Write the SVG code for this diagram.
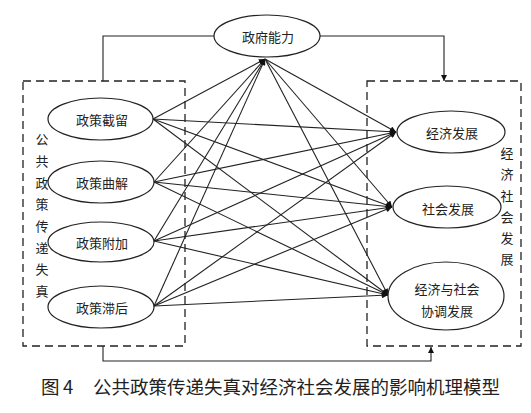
<svg xmlns="http://www.w3.org/2000/svg" width="531" height="413" viewBox="0 0 531 413">
<style>
.n{fill:#fff;stroke:#222;stroke-width:1.2}
.box{fill:none;stroke:#222;stroke-width:1.3;stroke-dasharray:8 5}
.t{font-family:"Noto Sans CJK SC","Noto Sans",sans-serif;font-size:13px;fill:#222;text-anchor:middle;dominant-baseline:central}
.c line,.c path{stroke:#222;stroke-width:1.1;fill:none}
.cap{font-family:"Noto Sans CJK SC","Noto Sans",sans-serif;font-size:18.5px;fill:#222;dominant-baseline:central}
</style>
<defs>
<marker id="ah" viewBox="0 0 10 10" refX="10" refY="5" markerWidth="8" markerHeight="6" markerUnits="userSpaceOnUse" orient="auto">
<path d="M0,0 L10,5 L0,10 z" fill="#111"/>
</marker>
</defs>
<rect width="531" height="413" fill="#fff"/>
<g id="leftbox">
<rect class="box" x="23" y="81" width="162" height="265"/>
<text class="t"><tspan x="42" y="138">公</tspan><tspan x="42" y="160">共</tspan><tspan x="42" y="182">政</tspan><tspan x="42" y="203">策</tspan><tspan x="42" y="225">传</tspan><tspan x="42" y="247">递</tspan><tspan x="42" y="268">失</tspan><tspan x="42" y="290">真</tspan></text>
</g>
<g id="rightbox">
<rect class="box" x="367" y="81" width="154" height="265"/>
<text class="t"><tspan x="507" y="152">经</tspan><tspan x="507" y="173">济</tspan><tspan x="507" y="195">社</tspan><tspan x="507" y="216">会</tspan><tspan x="507" y="237">发</tspan><tspan x="507" y="258">展</tspan></text>
</g>
<g class="c" id="connectors">
<path d="M103,81 V36 H214"/>
<path d="M320,36 H444 V81" marker-end="url(#ah)"/>
<path d="M103,346 V361 H431 V347" marker-end="url(#ah)"/>
<line x1="153" y1="119" x2="265" y2="59" marker-end="url(#ah)"/>
<line x1="154" y1="182" x2="265" y2="59" marker-end="url(#ah)"/>
<line x1="154" y1="241" x2="265" y2="59" marker-end="url(#ah)"/>
<line x1="154" y1="306" x2="265" y2="59" marker-end="url(#ah)"/>
<line x1="153" y1="119" x2="396" y2="132" marker-end="url(#ah)"/>
<line x1="154" y1="182" x2="396" y2="132" marker-end="url(#ah)"/>
<line x1="154" y1="241" x2="396" y2="132" marker-end="url(#ah)"/>
<line x1="154" y1="306" x2="396" y2="132" marker-end="url(#ah)"/>
<line x1="265" y1="59" x2="396" y2="132" marker-end="url(#ah)"/>
<line x1="153" y1="119" x2="392" y2="207" marker-end="url(#ah)"/>
<line x1="154" y1="182" x2="392" y2="207" marker-end="url(#ah)"/>
<line x1="154" y1="241" x2="392" y2="207" marker-end="url(#ah)"/>
<line x1="154" y1="306" x2="392" y2="207" marker-end="url(#ah)"/>
<line x1="265" y1="59" x2="392" y2="207" marker-end="url(#ah)"/>
<line x1="153" y1="119" x2="388" y2="295" marker-end="url(#ah)"/>
<line x1="154" y1="182" x2="388" y2="295" marker-end="url(#ah)"/>
<line x1="154" y1="241" x2="388" y2="295" marker-end="url(#ah)"/>
<line x1="154" y1="306" x2="388" y2="295" marker-end="url(#ah)"/>
<line x1="265" y1="59" x2="388" y2="295" marker-end="url(#ah)"/>
</g>
<g id="gov">
<ellipse class="n" cx="267" cy="36" rx="53" ry="21"/>
<text class="t" x="268" y="36" font-size="13.5">政府能力</text>
</g>
<g id="jieliu">
<ellipse class="n" cx="100.5" cy="119" rx="52.5" ry="21"/>
<text class="t" x="102" y="119">政策截留</text>
</g>
<g id="qujie">
<ellipse class="n" cx="101" cy="182" rx="53" ry="21"/>
<text class="t" x="102" y="182">政策曲解</text>
</g>
<g id="fujia">
<ellipse class="n" cx="101" cy="242" rx="53" ry="20"/>
<text class="t" x="102" y="242">政策附加</text>
</g>
<g id="zhihou">
<ellipse class="n" cx="101" cy="307" rx="53" ry="21"/>
<text class="t" x="102" y="307">政策滞后</text>
</g>
<g id="jingji">
<ellipse class="n" cx="451" cy="132" rx="54" ry="21"/>
<text class="t" x="452" y="132">经济发展</text>
</g>
<g id="shehui">
<ellipse class="n" cx="447" cy="207" rx="54" ry="21"/>
<text class="t" x="448" y="208">社会发展</text>
</g>
<g id="xietiao">
<ellipse class="n" cx="446" cy="296" rx="58" ry="34"/>
<text class="t" x="447" y="288">经济与社会</text>
<text class="t" x="447" y="310">协调发展</text>
</g>
<text class="cap" x="41" y="386">图</text>
<text class="cap" x="63" y="386" font-family="Liberation Sans,sans-serif">4</text>
<text class="cap" x="93" y="386" textLength="407">公共政策传递失真对经济社会发展的影响机理模型</text>
</svg>
